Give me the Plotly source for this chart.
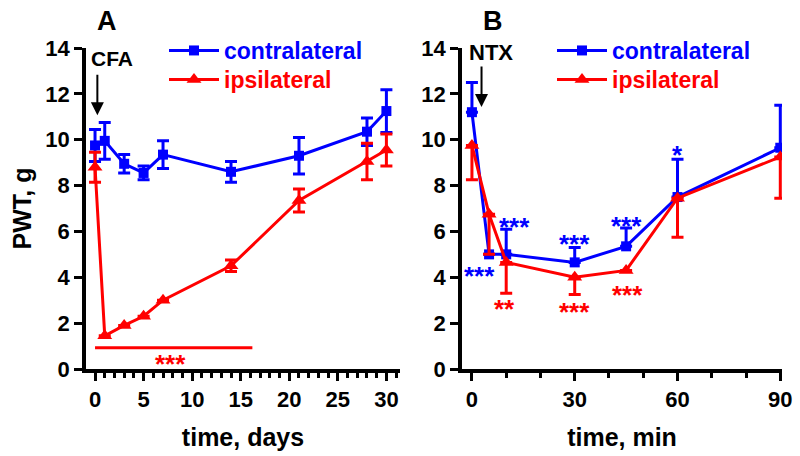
import plotly.graph_objects as go

# ---------------- data: panel A (CFA, days) ----------------
days = [0, 1, 3, 5, 7, 14, 21, 28, 30]
contra_A = [9.75, 9.95, 8.95, 8.55, 9.35, 8.6, 9.3, 10.35, 11.25]
contra_A_err = [0.7, 0.8, 0.4, 0.3, 0.6, 0.45, 0.8, 0.6, 0.93]
ipsi_A = [8.8, 1.45, 1.9, 2.3, 3.0, 4.5, 7.35, 9.05, 9.55]
ipsi_A_err = [0.65, 0.0, 0.0, 0.0, 0.0, 0.25, 0.5, 0.8, 0.7]

# ---------------- data: panel B (NTX, minutes) ----------------
mins = [0, 5, 10, 30, 45, 60, 90]
contra_B = [11.2, 5.0, 5.0, 4.65, 5.35, 7.5, 9.65]
contra_B_up = [1.3, 0.0, 1.1, 0.65, 0.8, 1.65, 1.85]
ipsi_B = [9.75, 6.75, 4.65, 4.0, 4.3, 7.45, 9.25]
ipsi_B_down = [1.5, 1.75, 1.35, 0.75, 0.0, 1.7, 1.8]

# significance markers
sigA_bar_x = [0, 16.2]
sigA_bar_y = 0.93
sigA_text_x, sigA_text_y = 7.8, 0.5
sigB_blue_x = [2.3, 12.5, 30, 45, 60]
sigB_blue_y = [4.3, 6.45, 5.7, 6.5, 9.6]
sigB_blue_t = ["***", "***", "***", "***", "*"]
sigB_red_x = [9.6, 30, 45.3]
sigB_red_y = [2.86, 2.75, 3.48]
sigB_red_t = ["**", "***", "***"]

BLUE = "#0000ff"
RED = "#ff0000"
FONT = "Arial, Liberation Sans, sans-serif"

fig = go.Figure()

# Panel A
fig.add_trace(go.Scatter(
    x=days, y=contra_A, mode="lines+markers", xaxis="x", yaxis="y",
    name="<span style='color:#0000ff'>contralateral</span>",
    line=dict(color=BLUE, width=3), marker=dict(symbol="square", size=10, color=BLUE),
    error_y=dict(type="data", array=contra_A_err, color=BLUE, thickness=3, width=6),
    legend="legend"))
fig.add_trace(go.Scatter(
    x=days, y=ipsi_A, mode="lines+markers", xaxis="x", yaxis="y",
    name="<span style='color:#ff0000'>ipsilateral</span>",
    line=dict(color=RED, width=3), marker=dict(symbol="triangle-up", size=13, color=RED),
    error_y=dict(type="data", array=ipsi_A_err, color=RED, thickness=3, width=6),
    legend="legend3"))

# Panel B
fig.add_trace(go.Scatter(
    x=mins, y=contra_B, mode="lines+markers", xaxis="x2", yaxis="y2",
    name="<span style='color:#0000ff'>contralateral</span>",
    line=dict(color=BLUE, width=3), marker=dict(symbol="square", size=10, color=BLUE),
    error_y=dict(type="data", symmetric=False, array=contra_B_up,
                 arrayminus=[0] * len(mins), color=BLUE, thickness=3, width=6),
    legend="legend2"))
fig.add_trace(go.Scatter(
    x=mins, y=ipsi_B, mode="lines+markers", xaxis="x2", yaxis="y2",
    name="<span style='color:#ff0000'>ipsilateral</span>",
    line=dict(color=RED, width=3), marker=dict(symbol="triangle-up", size=13, color=RED),
    error_y=dict(type="data", symmetric=False, array=[0] * len(mins),
                 arrayminus=ipsi_B_down, color=RED, thickness=3, width=6),
    legend="legend4"))

ydom = [1 - 369 / 456, 1 - 48 / 456]
axis_common = dict(showline=True, linecolor="black", linewidth=3.5, ticks="outside",
                   tickwidth=3, ticklen=8, tickcolor="black", showgrid=False,
                   zeroline=False, mirror=False, automargin=False,
                   tickfont=dict(family=FONT, size=22, color="black", weight="bold"))
title_font = dict(family=FONT, size=25, color="black", weight="bold")


def leg(xpix, ypix):
    return dict(x=xpix / 800, y=1 - ypix / 456, xanchor="left", yanchor="top",
                bgcolor="rgba(0,0,0,0)", font=dict(family=FONT, size=23, weight="bold"),
                tracegroupgap=0, itemwidth=50)


fig.update_layout(
    width=800, height=456, margin=dict(l=0, r=0, t=0, b=0, autoexpand=False),
    plot_bgcolor="white", paper_bgcolor="white",
    font=dict(family=FONT, color="black"),
    xaxis=dict(domain=[86 / 800, 400 / 800], range=[-0.93, 31.4], tickvals=[0, 5, 10, 15, 20, 25, 30],
               anchor="y",
               minor=dict(dtick=1, tick0=0, ticks="outside", ticklen=5, tickwidth=3, tickcolor="black"),
               title=dict(text="time, days", font=title_font, standoff=18),
               **axis_common),
    yaxis=dict(domain=ydom, range=[0, 14], tickvals=[0, 2, 4, 6, 8, 10, 12, 14], anchor="x",
               title=dict(text="PWT, g", font=title_font, standoff=8),
               **axis_common),
    xaxis2=dict(domain=[462 / 800, 782 / 800], range=[-2.9, 90.5], tickvals=[0, 30, 60, 90],
                anchor="y2",
                minor=dict(dtick=10, tick0=0, ticks="outside", ticklen=5, tickwidth=3, tickcolor="black"),
                title=dict(text="time, min", font=title_font, standoff=18),
                **axis_common),
    yaxis2=dict(domain=ydom, range=[0, 14], tickvals=[0, 2, 4, 6, 8, 10, 12, 14], anchor="x2",
                **axis_common),
    legend=leg(164, 29),
    legend3=leg(164, 58),
    legend2=leg(552, 29),
    legend4=leg(552, 58),
    showlegend=True,
)

# significance bar panel A
fig.add_shape(type="line", xref="x", yref="y", x0=sigA_bar_x[0], x1=sigA_bar_x[1],
              y0=sigA_bar_y, y1=sigA_bar_y, line=dict(color=RED, width=3))
fig.add_annotation(x=sigA_text_x, y=sigA_text_y, xref="x", yref="y", text="***", showarrow=False,
                   yshift=-6, font=dict(family=FONT, size=26, color=RED, weight="bold"))

for xx, yy, tt in zip(sigB_blue_x, sigB_blue_y, sigB_blue_t):
    fig.add_annotation(x=xx, y=yy, xref="x2", yref="y2", text=tt, showarrow=False, yshift=-6,
                       font=dict(family=FONT, size=26, color=BLUE, weight="bold"))
for xx, yy, tt in zip(sigB_red_x, sigB_red_y, sigB_red_t):
    fig.add_annotation(x=xx, y=yy, xref="x2", yref="y2", text=tt, showarrow=False, yshift=-6,
                       font=dict(family=FONT, size=26, color=RED, weight="bold"))

# CFA / NTX labels with arrows
fig.add_annotation(x=1.7, y=13.55, xref="x", yref="y", text="CFA", showarrow=False,
                   font=dict(family=FONT, size=21, color="black", weight="bold"))
fig.add_annotation(x=0.24, y=11.07, ax=0.24, ay=12.9, xref="x", yref="y", axref="x", ayref="y",
                   text="", showarrow=True, arrowhead=2, arrowsize=1.3, arrowwidth=2, arrowcolor="black")
fig.add_annotation(x=5.7, y=13.8, xref="x2", yref="y2", text="NTX", showarrow=False,
                   font=dict(family=FONT, size=22, color="black", weight="bold"))
fig.add_annotation(x=2.8, y=11.43, ax=2.8, ay=13.26, xref="x2", yref="y2", axref="x2", ayref="y2",
                   text="", showarrow=True, arrowhead=2, arrowsize=1.3, arrowwidth=2, arrowcolor="black")

# Panel letters
fig.add_annotation(x=107 / 800, y=1 - 21 / 456, xref="paper", yref="paper", text="A",
                   xanchor="center", yanchor="middle",
                   showarrow=False, font=dict(family=FONT, size=27, color="black", weight="bold"))
fig.add_annotation(x=493 / 800, y=1 - 21 / 456, xref="paper", yref="paper", text="B",
                   xanchor="center", yanchor="middle",
                   showarrow=False, font=dict(family=FONT, size=27, color="black", weight="bold"))

fig.write_html("out.html", post_script="document.body.style.margin='0';",
               config={"displayModeBar": False})
